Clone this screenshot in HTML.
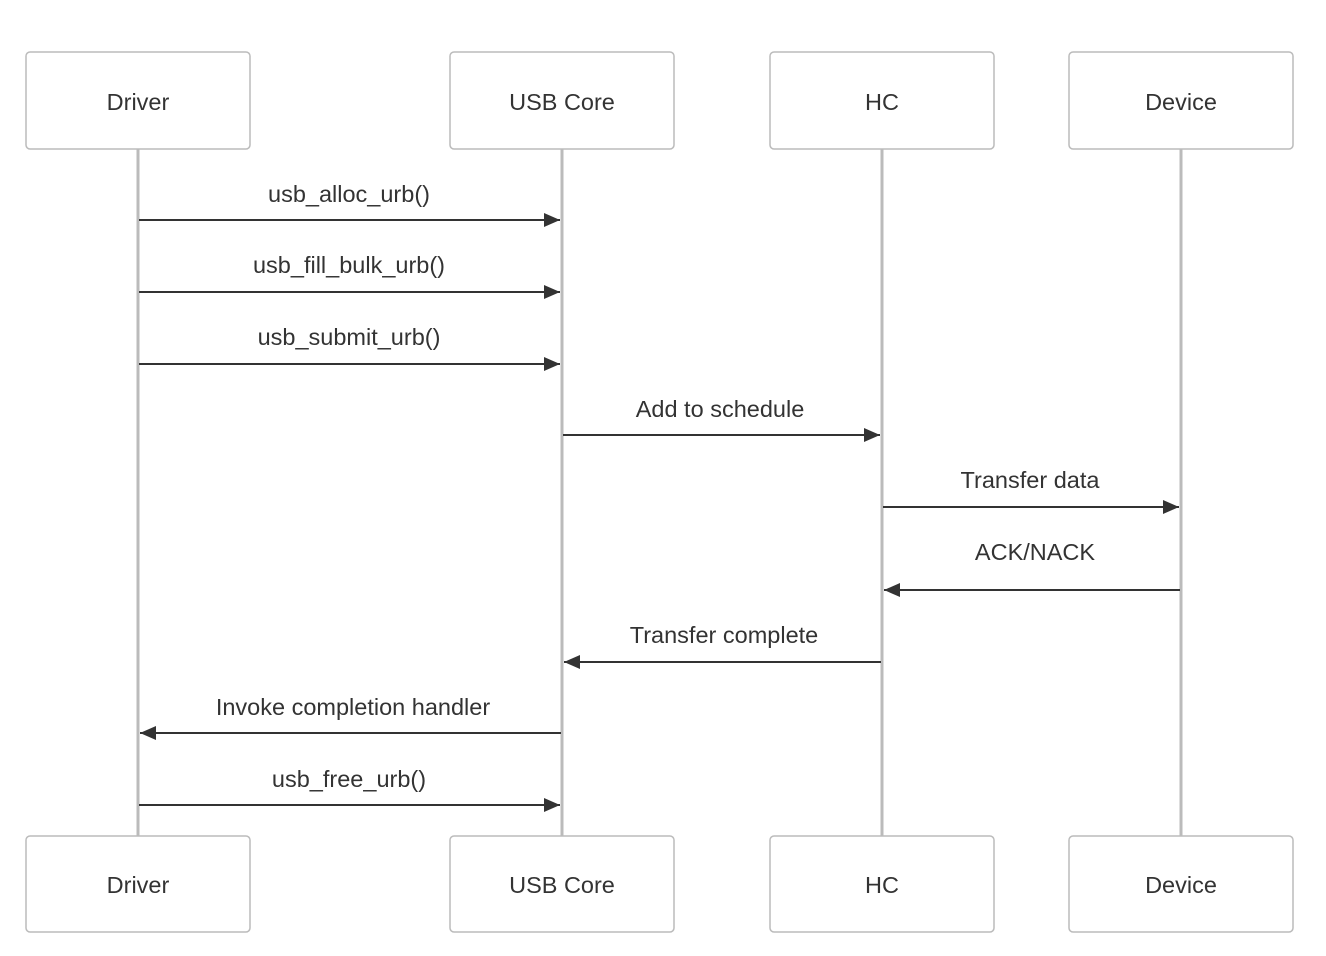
<!DOCTYPE html>
<html><head><style>body{margin:0;background:#fff}</style></head><body>
<svg width="1326" height="951" xmlns="http://www.w3.org/2000/svg" font-family="Liberation Sans, Arial, sans-serif" font-size="23.5" fill="#333">
<defs><marker id="a" markerWidth="16" markerHeight="14" refX="16" refY="7" orient="auto" markerUnits="userSpaceOnUse"><path d="M0,0L16,7L0,14z" fill="#333"/></marker></defs>
<g stroke="#bbb" stroke-width="3">
<line x1="138" y1="149" x2="138" y2="836"/><line x1="562" y1="149" x2="562" y2="836"/><line x1="882" y1="149" x2="882" y2="836"/><line x1="1181" y1="149" x2="1181" y2="836"/>
</g>
<g fill="#fff" stroke="#bbb" stroke-width="1.5">
<rect x="26" y="52" width="224" height="97" rx="4"/><rect x="450" y="52" width="224" height="97" rx="4"/><rect x="770" y="52" width="224" height="97" rx="4"/><rect x="1069" y="52" width="224" height="97" rx="4"/>
<rect x="26" y="836" width="224" height="96" rx="4"/><rect x="450" y="836" width="224" height="96" rx="4"/><rect x="770" y="836" width="224" height="96" rx="4"/><rect x="1069" y="836" width="224" height="96" rx="4"/>
</g>
<g text-anchor="middle">
<text x="138" y="110">Driver</text><text x="562" y="110">USB Core</text><text x="882" y="110">HC</text><text x="1181" y="110">Device</text>
<text x="138" y="893">Driver</text><text x="562" y="893">USB Core</text><text x="882" y="893">HC</text><text x="1181" y="893">Device</text>
<text x="349" y="202">usb_alloc_urb()</text>
<text x="349" y="273">usb_fill_bulk_urb()</text>
<text x="349" y="345">usb_submit_urb()</text>
<text x="720" y="417">Add to schedule</text>
<text x="1030" y="488">Transfer data</text>
<text x="1035" y="560">ACK/NACK</text>
<text x="724" y="643">Transfer complete</text>
<text x="353" y="715">Invoke completion handler</text>
<text x="349" y="787">usb_free_urb()</text>
</g>
<g stroke="#333" stroke-width="2" marker-end="url(#a)">
<line x1="139" y1="220" x2="560" y2="220"/>
<line x1="139" y1="292" x2="560" y2="292"/>
<line x1="139" y1="364" x2="560" y2="364"/>
<line x1="563" y1="435" x2="880" y2="435"/>
<line x1="883" y1="507" x2="1179" y2="507"/>
<line x1="1180" y1="590" x2="884" y2="590"/>
<line x1="881" y1="662" x2="564" y2="662"/>
<line x1="561" y1="733" x2="140" y2="733"/>
<line x1="139" y1="805" x2="560" y2="805"/>
</g>
</svg>
</body></html>
